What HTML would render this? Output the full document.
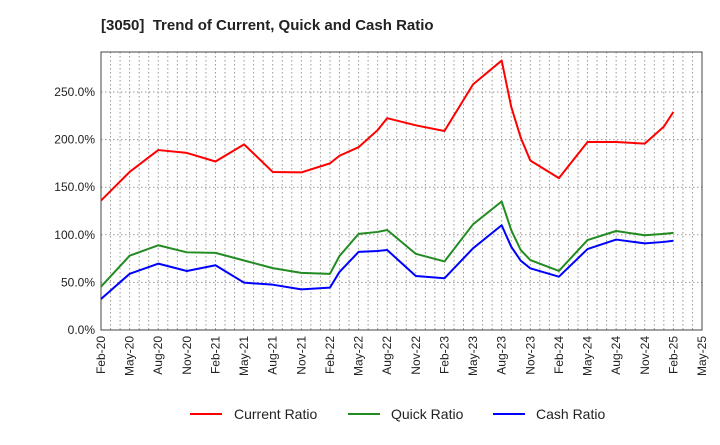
<!DOCTYPE html>
<html><head><meta charset="utf-8"><style>
body{margin:0;background:#fff;font-family:"Liberation Sans",Arial,sans-serif}
</style></head><body>
<svg id="chart" width="720" height="440" xmlns="http://www.w3.org/2000/svg" font-family="Liberation Sans, Arial, sans-serif">
<text x="101" y="30" font-size="15" font-weight="bold" fill="#222">[3050]&#160; Trend of Current, Quick and Cash Ratio</text>
<g id="grid"></g><g id="axes"></g><g id="series"></g>
<g font-size="14" fill="#222">
<g><line x1="190" y1="414" x2="222" y2="414" stroke="#f00" stroke-width="2"/><text x="234" y="419">Current Ratio</text></g>
<g><line x1="348" y1="414" x2="380" y2="414" stroke="#228b22" stroke-width="2"/><text x="391" y="419">Quick Ratio</text></g>
<g><line x1="493" y1="414" x2="525" y2="414" stroke="#00f" stroke-width="2"/><text x="536" y="419">Cash Ratio</text></g>
</g>
</svg>
<script>
const monthIdx=[0,3,6,9,12,15,18,21,24,25,27,29,30,33,36,39,42,43,44,45,48,51,54,57,59,60];
const currentRatio=[136,166,189,186,177,195,166,165.5,175,183,192,210,222.5,215,209,258,283,234.5,202,178,159.5,197.5,197.5,195.7,213.6,229];
const quickRatio=[45.5,78,89,81.6,81,73,65,60,59,77.7,101,103,105,80,72,111,135,105,84,73.5,62,94.5,104,99.5,101,102];
const cashRatio=[32.6,59,69.7,62,68,49.7,47.6,42.7,44.5,61,82,83,84,56.7,54.3,85.8,110,87.5,72.8,64.8,56,85,95,91,92.5,93.8];
const yTicks=[0,50,100,150,200,250];
const xTickLabels=["Feb-20","May-20","Aug-20","Nov-20","Feb-21","May-21","Aug-21","Nov-21","Feb-22","May-22","Aug-22","Nov-22","Feb-23","May-23","Aug-23","Nov-23","Feb-24","May-24","Aug-24","Nov-24","Feb-25","May-25"];
const L=101,R=702,T=52,B=330,NM=63,YMAX=292;
const X=m=>L+(R-L)*m/NM, Y=v=>B-(B-T)*v/YMAX;
const ns="http://www.w3.org/2000/svg";
function mk(tag,attrs,parent){const e=document.createElementNS(ns,tag);for(const k in attrs)e.setAttribute(k,attrs[k]);parent.appendChild(e);return e;}
const grid=document.getElementById('grid'),axes=document.getElementById('axes'),ser=document.getElementById('series');
for(let m=1;m<NM;m++){const l=mk('line',{x1:X(m),x2:X(m),y1:T,y2:B,stroke:'#999','stroke-dasharray':'1.5,2.5','stroke-width':1},grid);

}
yTicks.forEach(v=>{if(v>0){const l=mk('line',{x1:L,x2:R,y1:Y(v),y2:Y(v),stroke:'#999','stroke-dasharray':'1.5,2.5','stroke-width':1},grid);

}
const t=mk('text',{x:L-6,y:Y(v)+4,'text-anchor':'end','font-size':12,fill:'#222'},axes);t.textContent=v.toFixed(1)+'%';

});
const fr=mk('rect',{x:L,y:T,width:R-L,height:B-T,fill:'none',stroke:'#444','stroke-width':1},axes);


xTickLabels.forEach((s,i)=>{const x=X(i*3);
const t=mk('text',{transform:`translate(${x+4},${B+6}) rotate(-90)`,'text-anchor':'end','font-size':12,fill:'#222'},axes);t.textContent=s;

});
[[currentRatio,'#f00','current-ratio-line'],[quickRatio,'#228b22','quick-ratio-line'],[cashRatio,'#00f','cash-ratio-line']].forEach(([d,c,n])=>{
const p=mk('polyline',{points:d.map((v,i)=>X(monthIdx[i])+','+Y(v)).join(' '),fill:'none',stroke:c,'stroke-width':2,'stroke-linejoin':'round'},ser);

});
</script>
</body></html>
